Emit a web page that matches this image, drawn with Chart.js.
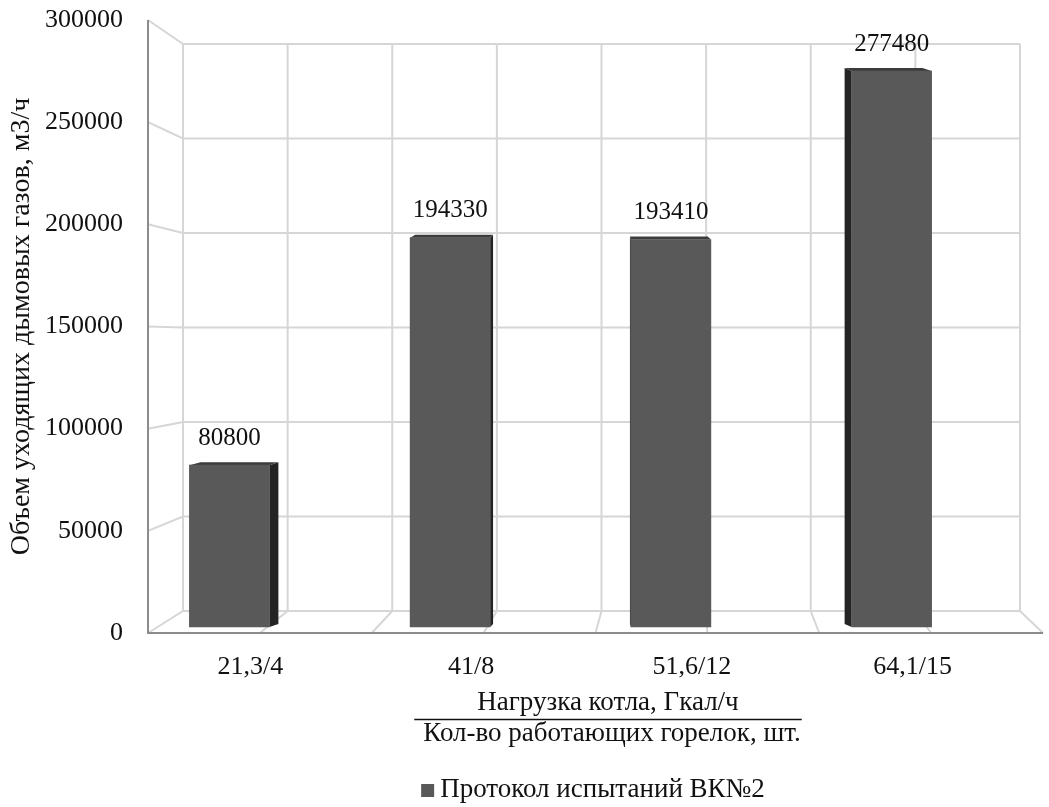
<!DOCTYPE html>
<html>
<head>
<meta charset="utf-8">
<script src="https://cdn.jsdelivr.net/npm/chart.js@4"></script>
<style>
  html, body { margin: 0; padding: 0; background: #fff; }
  #wrap { width: 1049px; height: 807px; }
</style>
</head>
<body>
<div id="wrap"><canvas id="chart"></canvas></div>
<script>
// ─── Data ────────────────────────────────────────────────────
const categories   = ['21,3/4', '41/8', '51,6/12', '64,1/15'];
const gasVolume    = [80800, 194330, 193410, 277480];
const seriesName   = 'Протокол испытаний ВК№2';
const yTitle       = 'Объем уходящих дымовых газов, м3/ч';
const xTitleTop    = 'Нагрузка котла, Гкал/ч';
const xTitleBottom = 'Кол-во работающих горелок, шт.';
const yMin = 0, yMax = 300000, yStep = 50000;

// ─── Look ────────────────────────────────────────────────────
const FONT     = "'Liberation Serif', 'Times New Roman', serif";
const TEXT     = '#111111';
const BAR      = '#595959';
const BAR_SIDE = '#242424';
const BAR_TOP  = '#3c3c3c';
const GRID     = '#d6d6d6';
const AXIS     = '#8c8c8c';

// pseudo-3D box: front plane edges, back wall, depth of the columns
const FRONT = { left: 148, right: 1043 };
const BACK  = { left: 183, right: 1020, top: 44, bottom: 611 };
const DIVS  = 8;
const DEPTH = { vx: 597, k: 0.0275, dy: -3 };

/**
 * Walls, floor and the side/top faces of the columns.
 */
const boxPlugin = {
  id: 'box3d',
  beforeDatasetsDraw(chart) {
    const { ctx, chartArea: a, scales: { y } } = chart;
    const ratio = (BACK.bottom - BACK.top) / (a.bottom - a.top);
    const backY = py => BACK.bottom + (py - a.bottom) * ratio;

    ctx.save();
    ctx.lineWidth = 2;
    ctx.strokeStyle = GRID;
    ctx.beginPath();
    y.ticks.forEach(t => {
      const fy = y.getPixelForValue(t.value);
      const by = backY(fy);
      ctx.moveTo(FRONT.left, fy);
      ctx.lineTo(BACK.left, by);
      ctx.lineTo(BACK.right, by);
    });
    const topY = backY(y.getPixelForValue(yMax));
    const botY = backY(y.getPixelForValue(yMin));
    for (let i = 0; i <= DIVS; i++) {
      const bx = BACK.left + (BACK.right - BACK.left) * i / DIVS;
      const fx = FRONT.left + (FRONT.right - FRONT.left) * i / DIVS;
      ctx.moveTo(bx, topY);
      ctx.lineTo(bx, botY);
      ctx.lineTo(fx, a.bottom);
    }
    ctx.stroke();

    ctx.strokeStyle = AXIS;
    ctx.beginPath();
    ctx.moveTo(FRONT.left, a.top);
    ctx.lineTo(FRONT.left, a.bottom);
    ctx.lineTo(FRONT.right, a.bottom);
    ctx.stroke();

    // depth faces of the columns (front faces are drawn by Chart.js)
    const shift = px => DEPTH.k * (DEPTH.vx - px);
    const poly = pts => {
      ctx.beginPath();
      pts.forEach(([px, py], i) => (i ? ctx.lineTo(px, py) : ctx.moveTo(px, py)));
      ctx.closePath();
      ctx.fill();
    };
    chart.getDatasetMeta(0).data.forEach(bar => {
      const { x, y: top, base, width } = bar.getProps(['x', 'y', 'base', 'width'], true);
      const l = x - width / 2, r = x + width / 2;
      const edge = DEPTH.vx > r ? r : l;
      const dx = shift(edge);
      ctx.fillStyle = BAR_SIDE;
      poly([[edge, top], [edge + dx, top + DEPTH.dy], [edge + dx, base + DEPTH.dy], [edge, base]]);
      ctx.fillStyle = BAR_TOP;
      poly([[l, top], [r, top], [r + shift(r), top + DEPTH.dy], [l + shift(l), top + DEPTH.dy]]);
    });
    ctx.restore();
  },

  afterDatasetsDraw(chart) {
    const { ctx } = chart;
    ctx.save();
    ctx.font = `25px ${FONT}`;
    ctx.fillStyle = TEXT;
    ctx.textAlign = 'center';
    ctx.textBaseline = 'middle';
    chart.getDatasetMeta(0).data.forEach((bar, i) => {
      ctx.fillText(String(gasVolume[i]), bar.x, bar.y - 27);
    });
    ctx.restore();
  },

  // two-line axis title (numerator / denominator) and the legend
  afterDraw(chart) {
    const { ctx } = chart;
    const cx = 608;
    ctx.save();
    ctx.font = `27px ${FONT}`;
    ctx.fillStyle = TEXT;
    ctx.textAlign = 'center';
    ctx.textBaseline = 'middle';
    ctx.fillText(xTitleTop, cx, 703);
    ctx.fillText(xTitleBottom, cx + 4, 734);
    const w = ctx.measureText(xTitleBottom).width + 10;
    ctx.strokeStyle = TEXT;
    ctx.lineWidth = 1.5;
    ctx.beginPath();
    ctx.moveTo(cx - w / 2, 719.5);
    ctx.lineTo(cx + w / 2, 719.5);
    ctx.stroke();

    const tw = ctx.measureText(seriesName).width;
    const lx = 593 - (13 + 6 + tw) / 2;
    ctx.fillStyle = BAR;
    ctx.fillRect(lx, 784, 13, 13);
    ctx.fillStyle = TEXT;
    ctx.textAlign = 'left';
    ctx.fillText(seriesName, lx + 19, 790);
    ctx.restore();
  },
};

new Chart(document.getElementById('chart'), {
  type: 'bar',
  data: {
    labels: categories,
    datasets: [{
      label:           seriesName,
      data:            gasVolume,
      yAxisID:         'yBar',
      backgroundColor: BAR,
      barThickness:    80,
    }],
  },
  options: {
    responsive:          true,
    maintainAspectRatio: false,
    animation:           false,
    layout: { padding: { top: 20, right: 47, bottom: 0, left: 0 } },
    plugins: {
      legend:  { display: false },
      tooltip: { enabled: false },
    },
    scales: {
      x: {
        offset: true,
        grid:   { display: false, drawTicks: false },
        border: { display: false },
        ticks:  { color: TEXT, font: { family: FONT, size: 26 }, labelOffset: 21, padding: 19 },
        afterFit(s) { s.height = 174; },
      },
      y: {
        min: yMin,
        max: yMax,
        grid:   { display: false, drawTicks: false },
        border: { display: false },
        // mirrored + 'far' keeps labels right-aligned and unclipped
        ticks:  {
          stepSize: yStep,
          color: TEXT,
          font: { family: FONT, size: 26 },
          mirror: true,
          crossAlign: 'far',
          padding: -74,
          callback: v => String(v),
        },
        title:  { display: true, text: yTitle, color: TEXT, font: { family: FONT, size: 28 }, padding: { top: 5 } },
        afterFit(s) { s.width = 119; },
      },
      // plane in which the columns stand (a little behind the front axis)
      yBar: {
        display: false,
        min: -3000,
        max: 303000,
      },
    },
  },
  plugins: [boxPlugin],
});
</script>
</body>
</html>
